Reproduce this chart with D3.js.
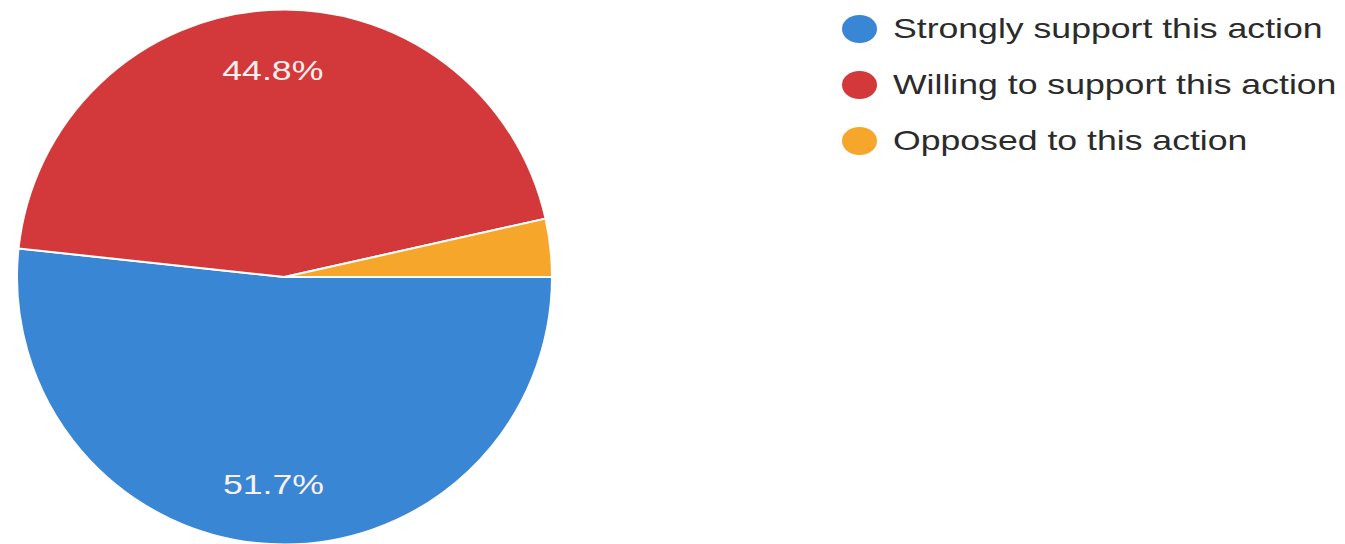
<!DOCTYPE html>
<html>
<head>
<meta charset="utf-8">
<script src="https://cdn.jsdelivr.net/npm/d3@7"></script>
<style>
  html, body { margin: 0; padding: 0; background: #ffffff; }
  svg { display: block; }
  text { font-family: "Liberation Sans", Arial, sans-serif; }
</style>
</head>
<body>
<svg id="chart" width="1345" height="544"></svg>
<script>
// Survey responses (percent of respondents)
const categories = [
  "Strongly support this action",
  "Willing to support this action",
  "Opposed to this action"
];
const values = [51.7, 44.8, 3.5];
const colors = ["#3987d4", "#d3393a", "#f6a72b"];

const width = 1345, height = 544;
const cx = 284.5, cy = 277, radius = 267.5;
const textStretch = 1.25; // glyphs are drawn wider than tall

const svg = d3.select("#chart");

const pie = d3.pie()
  .sort(null)
  .value(d => d)
  .startAngle(Math.PI / 2)
  .endAngle(Math.PI / 2 + 2 * Math.PI);

const arc = d3.arc().innerRadius(0).outerRadius(radius);
const labelArc = d3.arc().innerRadius(207).outerRadius(207);

const arcs = pie(values);

const g = svg.append("g").attr("transform", `translate(${cx},${cy})`);

g.selectAll("path.slice")
  .data(arcs)
  .join("path")
  .attr("class", "slice")
  .attr("d", arc)
  .attr("fill", (d, i) => colors[i])
  .attr("stroke", "#ffffff")
  .attr("stroke-width", 2);

// Percentage labels on slices large enough to hold them
g.selectAll("text.pct")
  .data(arcs.filter(d => d.value > 10))
  .join("text")
  .attr("class", "pct")
  .attr("transform", d => {
    const [x, y] = labelArc.centroid(d);
    return `translate(${x},${y + 10}) scale(${textStretch},1)`;
  })
  .attr("text-anchor", "middle")
  .attr("fill", "#fbeff0")
  .attr("font-size", 28.5)
  .text(d => d.value.toFixed(1) + "%");

// Legend
const legend = svg.append("g").attr("transform", "translate(859.5,29)");
const rowGap = 56;

const rows = legend.selectAll("g.row")
  .data(categories)
  .join("g")
  .attr("class", "row")
  .attr("transform", (d, i) => `translate(0,${i * rowGap})`);

rows.append("ellipse")
  .attr("rx", 17.5)
  .attr("ry", 14)
  .attr("fill", (d, i) => colors[i]);

rows.append("text")
  .attr("transform", `translate(33.5,9) scale(${textStretch},1)`)
  .attr("fill", "#2b2b2b")
  .attr("font-size", 28.5)
  .text(d => d);
</script>
</body>
</html>
